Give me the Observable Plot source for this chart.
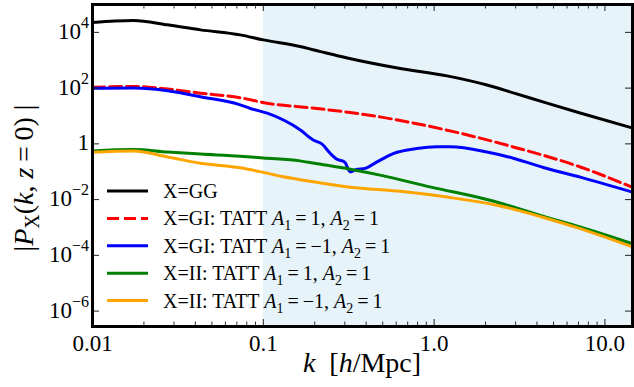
<!DOCTYPE html>
<html><head><meta charset="utf-8">
<script src="https://cdn.jsdelivr.net/npm/d3@7"></script>
<script src="https://cdn.jsdelivr.net/npm/@observablehq/plot@0.6"></script>
<style>
body{margin:0;background:#fff;}
#chart{position:relative;width:634px;height:387px;}
#chart svg text, #chart svg tspan{font-family:"Liberation Serif", "Times New Roman", serif !important;}
</style></head><body><div id="chart"></div>
<script>
// ---- data ----
const kGG = [0.01, 0.0135, 0.0174, 0.0275, 0.0428, 0.0733, 0.1, 0.164, 0.216, 0.31, 0.61, 1.19, 2.04, 2.94, 4.58, 7.24, 14.5];
const pGG = [22400, 25700, 26900, 18600, 12300, 8130, 5370, 3090, 2040, 1200, 525, 275, 129, 66, 28.8, 12.6, 3.7];

const kGIp = [0.01, 0.0174, 0.0275, 0.0428, 0.0733, 0.105, 0.2, 0.49, 1.19, 2.94, 7.24, 14.5];
const pGIp = [107, 115, 93, 66, 45, 28.8, 19, 9.1, 3.1, 0.76, 0.145, 0.0275];

const kGIm = [0.01, 0.0174, 0.0275, 0.0428, 0.0733, 0.084, 0.1055, 0.164, 0.197, 0.22, 0.247, 0.27, 0.30, 0.323, 0.35, 0.395, 0.46, 0.576, 0.79, 1.04, 1.24, 2.04, 2.94, 4.58, 7.24, 14.5];
const pGIm = [98, 100, 81, 49, 25, 18.6, 12.6, 3.2, 1.35, 1.0, 0.45, 0.28, 0.22, 0.098, 0.12, 0.132, 0.22, 0.45, 0.68, 0.78, 0.78, 0.51, 0.30, 0.13, 0.063, 0.0186];

const kIIp = [0.01, 0.0174, 0.0275, 0.0428, 0.0733, 0.1, 0.164, 0.2, 0.323, 0.49, 0.96, 2.15, 4.58, 7.24, 14.5];
const pIIp = [0.56, 0.63, 0.51, 0.43, 0.36, 0.31, 0.245, 0.20, 0.123, 0.074, 0.028, 0.0093, 0.0023, 0.00102, 0.00026];

const kIIm = [0.01, 0.0174, 0.0275, 0.0428, 0.0733, 0.1, 0.131, 0.2, 0.323, 0.636, 1.19, 2.33, 4.58, 7.24, 14.5];
const pIIm = [0.50, 0.55, 0.34, 0.20, 0.138, 0.095, 0.066, 0.043, 0.028, 0.020, 0.0123, 0.0063, 0.0021, 0.00089, 0.0002];

const xDomain = [0.01, 14.5];
const yDomain = [2.8e-7, 1e5];
const shadeFrom = 0.1;

const xMajorTicks = [0.01, 0.1, 1, 10];
const xTickLabels = ["0.01", "0.1", "1.0", "10.0"];
const xMinorTicks = [0.02, 0.03, 0.04, 0.05, 0.06, 0.07, 0.08, 0.09, 0.2, 0.3, 0.4, 0.5, 0.6, 0.7, 0.8, 0.9, 2, 3, 4, 5, 6, 7, 8, 9];
const yTicks = [1e4, 1e2, 1, 1e-2, 1e-4, 1e-6];
const yTickBase = ["10", "10", "1", "10", "10", "10"];
const yTickExp = ["4", "2", "", "\u22122", "\u22124", "\u22126"];

const legendLabels = [
  [{t: "X=GG"}],
  [{t: "X=GI: TATT "}, {t: "A", i: 1}, {t: "1", s: 1}, {t: "\u2009=\u20091, "}, {t: "A", i: 1}, {t: "2", s: 1}, {t: "\u2009=\u20091"}],
  [{t: "X=GI: TATT "}, {t: "A", i: 1}, {t: "1", s: 1}, {t: "\u2009=\u2009\u22121, "}, {t: "A", i: 1}, {t: "2", s: 1}, {t: "\u2009=\u20091"}],
  [{t: "X=II: TATT "}, {t: "A", i: 1}, {t: "1", s: 1}, {t: "\u2009=\u20091, "}, {t: "A", i: 1}, {t: "2", s: 1}, {t: "\u2009=\u20091"}],
  [{t: "X=II: TATT "}, {t: "A", i: 1}, {t: "1", s: 1}, {t: "\u2009=\u2009\u22121, "}, {t: "A", i: 1}, {t: "2", s: 1}, {t: "\u2009=\u20091"}]
];

// ---- styles ----
const series = [
  {k: kGG, p: pGG, color: "black", dash: null},
  {k: kGIp, p: pGIp, color: "#ff0000", dash: "12,5"},
  {k: kGIm, p: pGIm, color: "#0000ff", dash: null},
  {k: kIIp, p: pIIp, color: "#008000", dash: null},
  {k: kIIm, p: pIIm, color: "#ffa500", dash: null}
];
const W = 634, H = 387, mL = 92, mR = 2, mT = 4, mB = 61;
const plotH = H - mT - mB, plotW = W - mL - mR;
const serif = "Liberation Serif, serif";

const lineMarks = series.map(s => Plot.line(s.k.map((k, i) => ({k, p: s.p[i]})), {
  x: "k", y: "p", stroke: s.color, strokeWidth: 3, strokeDasharray: s.dash, curve: "monotone-x"
}));

const plot = Plot.plot({
  width: W, height: H,
  marginLeft: mL, marginRight: mR, marginTop: mT, marginBottom: mB,
  style: {background: "white", color: "black"},
  x: {type: "log", domain: xDomain, axis: null},
  y: {type: "log", domain: yDomain, axis: null},
  marks: [
    Plot.rect([{a: shadeFrom, b: xDomain[1]}], {x1: "a", x2: "b", fill: "#e6f3f9"}),
    ...lineMarks,
    Plot.ruleX(xMajorTicks, {x: d => d, insetTop: plotH - 7, stroke: "#222", strokeWidth: 1}),
    Plot.ruleX(xMajorTicks, {x: d => d, insetBottom: plotH - 7, stroke: "#222", strokeWidth: 1}),
    Plot.ruleX(xMinorTicks, {x: d => d, insetTop: plotH - 4.5, stroke: "#333", strokeWidth: 1}),
    Plot.ruleX(xMinorTicks, {x: d => d, insetBottom: plotH - 4.5, stroke: "#333", strokeWidth: 1}),
    Plot.ruleY(yTicks, {y: d => d, insetRight: plotW - 7, stroke: "#222", strokeWidth: 1}),
    Plot.ruleY(yTicks, {y: d => d, insetLeft: plotW - 7, stroke: "#222", strokeWidth: 1}),
    Plot.frame({stroke: "black", strokeWidth: 3}),
    Plot.axisX(xMajorTicks, {
      tickSize: 0, tickPadding: 8, label: null,
      tickFormat: d => xTickLabels[xMajorTicks.indexOf(d)],
      fontSize: 23, fill: "black"
    })
  ]
});
document.getElementById("chart").appendChild(plot);

const svg = d3.select(plot);
const ys = plot.scale("y");

// y tick labels with superscripts
yTicks.forEach((v, i) => {
  const t = svg.append("text")
    .attr("x", 89).attr("y", ys.apply(v) + 7)
    .attr("text-anchor", "end")
    .attr("font-family", serif).attr("font-size", 23).attr("fill", "black");
  t.append("tspan").text(yTickBase[i]);
  if (yTickExp[i]) t.append("tspan").attr("font-size", 16).attr("dy", -11).text(yTickExp[i]);
});

function richText(sel, parts, subSize, subShift) {
  let pending = 0;
  parts.forEach(p => {
    const ts = sel.append("tspan").text(p.t);
    if (p.i) ts.attr("font-style", "italic");
    if (p.s) {
      ts.attr("font-size", subSize).attr("dy", subShift);
      pending = -subShift;
    } else if (pending) {
      ts.attr("dy", pending);
      pending = 0;
    }
  });
}

// axis labels
const xl = svg.append("text").attr("x", 362).attr("y", 372)
  .attr("text-anchor", "middle").attr("font-size", 28).attr("fill", "black");
richText(xl, [{t: "k", i: 1}, {t: "  ["}, {t: "h", i: 1}, {t: "/Mpc]"}], 20, 0);

const yl = svg.append("text").attr("transform", "translate(33,178) rotate(-90)")
  .attr("text-anchor", "middle").attr("font-size", 28).attr("fill", "black");
richText(yl, [{t: "|"}, {t: "P", i: 1}, {t: "X", s: 1}, {t: "("}, {t: "k", i: 1}, {t: ", "}, {t: "z", i: 1}, {t: "\u2009=\u20090) |"}], 20, 6);

// legend
series.forEach((s, i) => {
  const y = 191 + 27.4 * i;
  svg.append("line").attr("x1", 107).attr("x2", 148).attr("y1", y).attr("y2", y)
    .attr("stroke", s.color).attr("stroke-width", 3)
    .attr("stroke-dasharray", s.dash);
  const t = svg.append("text").attr("x", 163).attr("y", y + 7)
    .attr("text-anchor", "start")
    .attr("font-size", 20).attr("fill", "black");
  richText(t, legendLabels[i], 14, 5);
});
</script>
</body></html>
